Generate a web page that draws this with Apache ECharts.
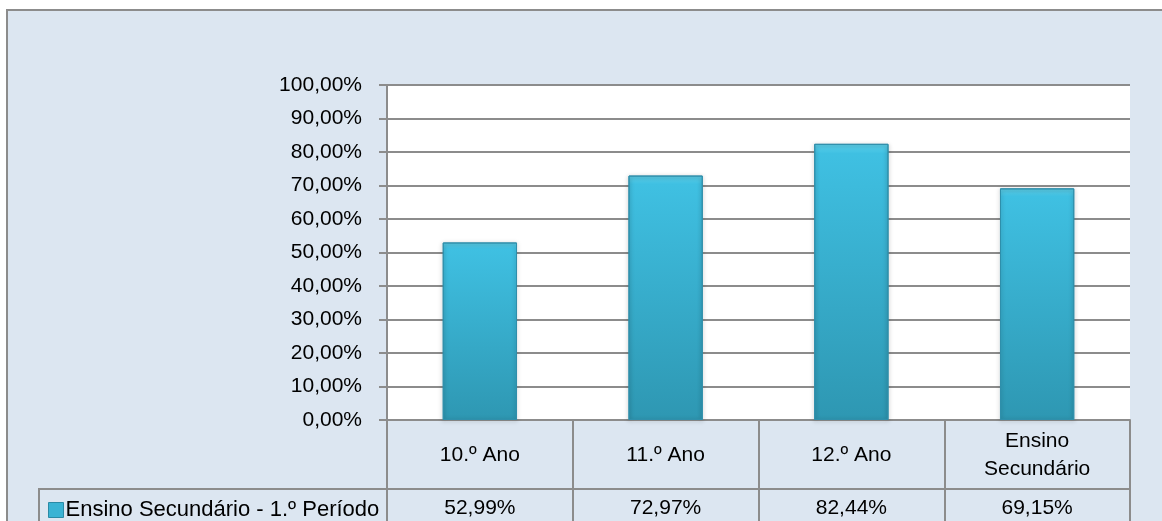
<!DOCTYPE html>
<html>
<head>
<meta charset="utf-8">
<script src="https://cdn.jsdelivr.net/npm/echarts@6/dist/echarts.min.js"></script>
<style>
html,body{margin:0;padding:0;background:#fff;}
#c{width:1162px;height:521px;}
</style>
</head>
<body>
<div id="c"></div>
<script>
const categories = ['10.º Ano', '11.º Ano', '12.º Ano', 'Ensino\nSecundário'];
const seriesName = 'Ensino Secundário - 1.º Período';
const values = [52.99, 72.97, 82.44, 69.15];
const yTicks = [0, 10, 20, 30, 40, 50, 60, 70, 80, 90, 100];

const FONT = "'Liberation Sans', Arial, sans-serif";
const GRAY = '#8c8c8c';
const fmt = v => v.toFixed(2).replace('.', ',') + '%';

const chart = echarts.init(document.getElementById('c'), null, {renderer: 'canvas'});
const option = {
  backgroundColor: '#ffffff',
  animation: false,
  textStyle: {fontFamily: FONT},
  legend: {
    left: 48, top: 499, padding: 0,
    itemWidth: 15, itemHeight: 15, icon: 'rect',
    textStyle: {fontFamily: FONT, fontSize: 22, color: '#000', padding: [0, 0, 0, -3]},
    data: [{name: seriesName, itemStyle: {color: '#3ab3d4', borderColor: '#2a8aa6', borderWidth: 1}}]
  },
  grid: {left: 387, right: 32, top: 85, bottom: 101, show: true, backgroundColor: '#ffffff', borderWidth: 0},
  yAxis: {
    type: 'value', min: yTicks[0], max: yTicks[yTicks.length - 1], interval: 10,
    axisLine: {show: true, lineStyle: {color: GRAY, width: 2}},
    axisTick: {show: true, length: 8, lineStyle: {color: GRAY, width: 2}},
    splitLine: {show: true, lineStyle: {color: GRAY, width: 2}},
    axisLabel: {formatter: fmt, fontFamily: FONT, fontSize: 21, color: '#000', margin: 25}
  },
  xAxis: [
    {
      type: 'category', data: categories, position: 'bottom',
      axisLine: {show: true, lineStyle: {color: GRAY, width: 2}},
      axisTick: {show: true, length: 110, interval: 0, lineStyle: {color: GRAY, width: 2}},
      axisLabel: {interval: 0, fontFamily: FONT, fontSize: 21, lineHeight: 28, color: '#000',
                  verticalAlign: 'middle', margin: 35}
    },
    {
      type: 'category', data: categories, position: 'bottom', offset: 69,
      axisLine: {show: true, lineStyle: {color: GRAY, width: 2}},
      axisTick: {show: false},
      axisLabel: {interval: 0, fontFamily: FONT, fontSize: 21, color: '#000',
                  verticalAlign: 'middle', margin: 19,
                  formatter: (v, i) => fmt(values[i])}
    }
  ],
  series: [{
    name: seriesName, type: 'bar', xAxisIndex: 0, barWidth: '40%',
    data: values,
    itemStyle: {
      color: new echarts.graphic.LinearGradient(0, 0, 0, 1, [
        {offset: 0, color: '#5fd2ec'},
        {offset: 0.035, color: '#3fc0e2'},
        {offset: 1, color: '#2e97b2'}
      ]),
      borderColor: '#2f8fab', borderWidth: 1,
      shadowColor: 'rgba(0,0,0,0.35)', shadowBlur: 4, shadowOffsetY: 1
    }
  }]
};
chart.setOption(option);

// legend cell frame, aligned to the category axis start
const step = chart.convertToPixel({xAxisIndex: 0}, categories[1]) - chart.convertToPixel({xAxisIndex: 0}, categories[0]);
const leftAxisX = chart.convertToPixel({xAxisIndex: 0}, categories[0]) - step / 2;
const rowY = chart.convertToPixel({yAxisIndex: 0}, 0) + 69;
chart.setOption({
  graphic: [
    {type: 'rect', z: -10, silent: true,
     shape: {x: 7, y: 10, width: 1200, height: 600},
     style: {fill: '#dce6f1', stroke: GRAY, lineWidth: 2}},
    {type: 'polyline', z: 5, silent: true,
     shape: {points: [[39, 540], [39, rowY], [leftAxisX, rowY]]},
     style: {stroke: GRAY, lineWidth: 2, fill: null}}
  ]
});
</script>
</body>
</html>
